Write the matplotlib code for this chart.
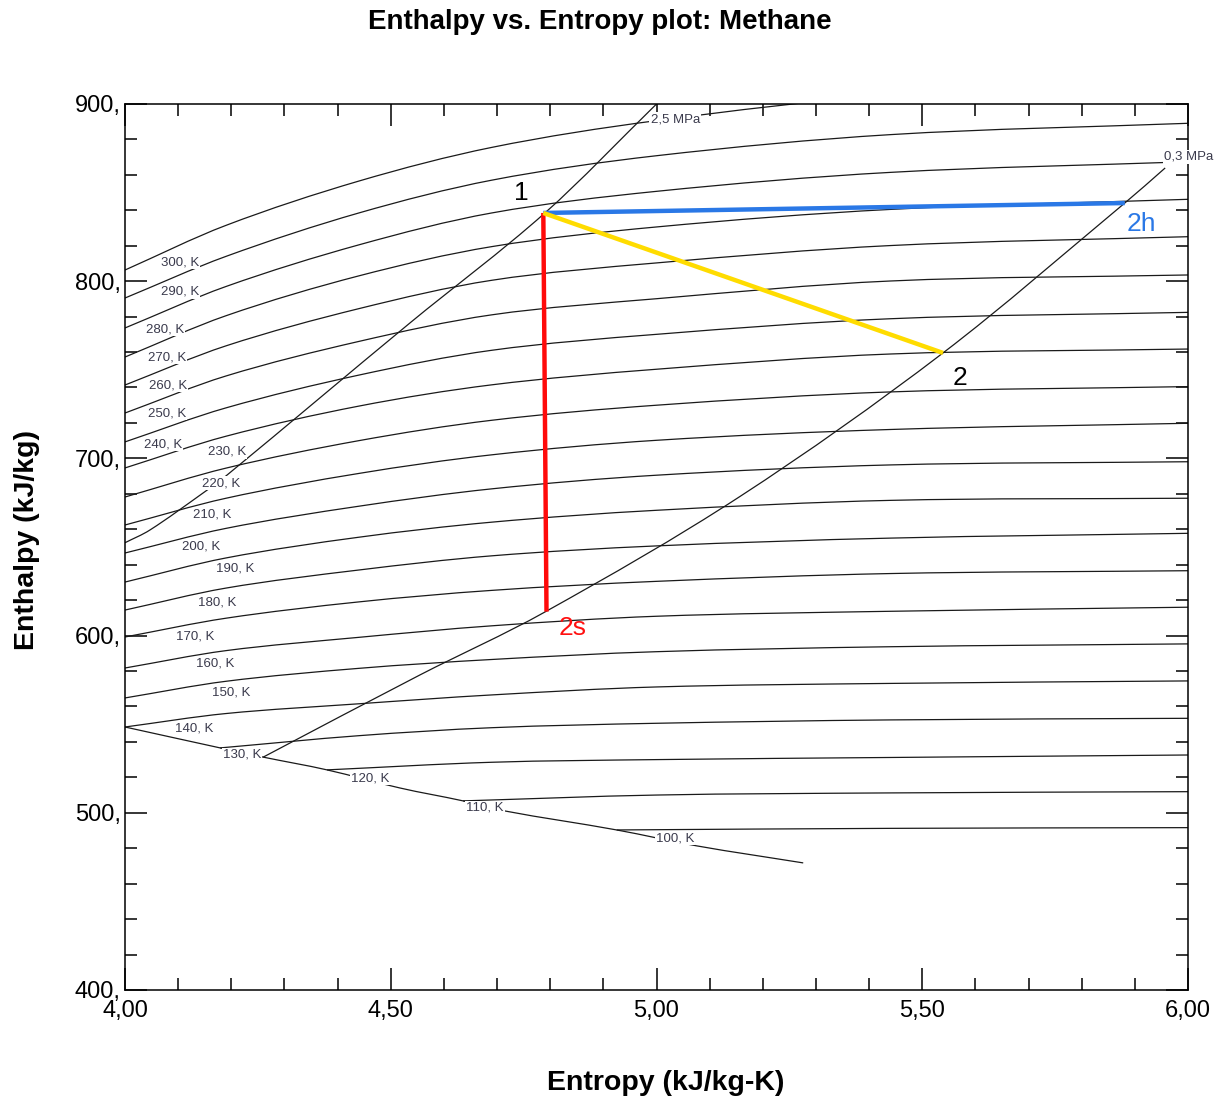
import matplotlib.pyplot as plt
from matplotlib.path import Path
from matplotlib.patches import PathPatch
from matplotlib.ticker import MultipleLocator, FuncFormatter

plt.rcParams['font.family'] = ['Liberation Sans', 'DejaVu Sans']

# entropy points (kJ/kg-K) where the upper isotherms are tabulated
s_grid = [4.00, 4.19, 4.44, 4.69, 5.00, 5.44, 6.00]

# enthalpy (kJ/kg) of each isotherm on s_grid
h_300 = [806.3, 831.5, 856.5, 875.5, 890.6, 905.0, 912.0]
h_290 = [790.5, 814.0, 838.5, 857.0, 870.8, 882.7, 889.1]
h_280 = [773.6, 797.0, 820.5, 838.5, 850.7, 861.4, 867.4]
h_270 = [757.2, 780.5, 803.0, 819.5, 830.6, 840.5, 846.2]
h_260 = [741.4, 763.5, 784.5, 800.5, 810.3, 820.1, 825.1]
h_250 = [725.6, 746.5, 766.0, 781.0, 790.1, 800.1, 803.5]
h_240 = [709.3, 728.5, 747.0, 761.0, 770.0, 778.8, 782.4]
h_230 = [694.6, 712.5, 729.5, 741.5, 750.3, 758.9, 761.7]
h_220 = [678.2, 694.5, 710.0, 721.5, 730.0, 737.5, 740.5]
h_210 = [662.4, 677.5, 691.5, 702.0, 710.2, 716.3, 719.8]
h_200 = [646.6, 660.5, 673.0, 682.8, 690.5, 696.3, 698.1]
h_190 = [630.2, 643.8, 655.5, 664.0, 670.7, 676.3, 677.5]
h_180 = [614.4, 626.8, 637.0, 645.0, 650.6, 655.0, 657.7]
h_170 = [599.2, 609.8, 619.0, 625.5, 630.6, 635.0, 636.6]
h_160 = [581.7, 591.5, 599.0, 605.5, 610.9, 613.7, 616.0]
h_150 = [564.8, 574.2, 581.5, 586.5, 590.9, 593.7, 595.3]
h_140 = [548.4, 556.0, 561.5, 566.5, 571.0, 573.0, 574.4]

# colder isotherms start on the saturated vapour line
s_130 = [4.179, 4.44, 4.69, 5.00, 5.44, 6.00]
h_130 = [536.6, 543.5, 548.0, 550.5, 552.4, 553.3]
s_120 = [4.38, 4.69, 5.00, 5.44, 6.00]
h_120 = [524.2, 528.5, 530.0, 531.2, 532.6]
s_110 = [4.636, 5.00, 5.44, 6.00]
h_110 = [506.7, 510.0, 511.2, 511.9]
s_100 = [4.925, 5.44, 6.00]
h_100 = [490.3, 491.2, 491.6]

# saturated vapour line down to the triple point
s_sat = [4.00, 4.179, 4.26, 4.38, 4.517, 4.636, 4.715, 4.925, 5.076, 5.276]
h_sat = [548.4, 536.6, 531.4, 524.2, 514.0, 506.7, 501.0, 490.3, 481.3, 471.7]

# isobars
s_p25 = [4.00, 4.047, 4.147, 4.192, 4.536, 4.79, 5.00]
h_p25 = [652.4, 659.6, 680.5, 690.6, 776.4, 838.5, 900.0]
s_p03 = [4.26, 4.555, 4.79, 5.157, 5.539, 5.881, 5.957]
h_p03 = [531.4, 577.8, 613.3, 678.5, 759.5, 844.1, 863.9]

# isotherm labels and where they sit
iso_T = [300, 290, 280, 270, 260, 250, 240, 230, 220, 210,
         200, 190, 180, 170, 160, 150, 140, 130, 120, 110, 100]
lab_s = [4.103, 4.103, 4.075, 4.079, 4.081, 4.079, 4.071, 4.192, 4.181, 4.164,
         4.143, 4.207, 4.173, 4.132, 4.169, 4.199, 4.130, 4.220, 4.461, 4.677, 5.035]
lab_h = [810.8, 793.9, 773.0, 757.2, 741.4, 725.6, 708.1, 703.6, 686.1, 668.1,
         650.0, 638.1, 618.9, 599.2, 584.0, 567.6, 547.3, 532.6, 519.6, 502.7, 485.7]

# compressor states
s1, h1 = 4.787, 838.5
s2s, h2s = 4.793, 613.5
s2, h2 = 5.539, 759.5
s2h, h2h = 5.881, 844.1

upper = [h_300, h_290, h_280, h_270, h_260, h_250, h_240, h_230, h_220,
         h_210, h_200, h_190, h_180, h_170, h_160, h_150, h_140]
lower = [(s_130, h_130), (s_120, h_120), (s_110, h_110), (s_100, h_100)]


def smooth_curve(ax, s, h, **kw):
    # cubic Hermite segments through the points, drawn as a Bezier path
    n = len(s)
    slopes = []
    for i in range(n):
        a, b = max(i - 1, 0), min(i + 1, n - 1)
        slopes.append((h[b] - h[a]) / (s[b] - s[a]))
    verts = [(s[0], h[0])]
    codes = [Path.MOVETO]
    for i in range(n - 1):
        d = (s[i + 1] - s[i]) / 3.0
        verts += [(s[i] + d, h[i] + slopes[i] * d),
                  (s[i + 1] - d, h[i + 1] - slopes[i + 1] * d),
                  (s[i + 1], h[i + 1])]
        codes += [Path.CURVE4] * 3
    ax.add_patch(PathPatch(Path(verts, codes), fill=False, **kw))


fig = plt.figure(figsize=(12.15, 10.98), dpi=100)
ax = fig.add_axes([0.1029, 0.0984, 0.8749, 0.8069])

line_kw = dict(edgecolor='#1a1a1a', lw=0.9, zorder=2)
for h in upper:
    smooth_curve(ax, s_grid, h, **line_kw)
for s, h in lower:
    smooth_curve(ax, s, h, **line_kw)
smooth_curve(ax, s_sat, h_sat, **line_kw)
smooth_curve(ax, s_p25, h_p25, **line_kw)
smooth_curve(ax, s_p03, h_p03, **line_kw)

lab_kw = dict(fontsize=9.5, color='#3a3a4c', ha='center', va='center', zorder=4,
              bbox=dict(facecolor='white', edgecolor='none', pad=0.8))
for T, s, h in zip(iso_T, lab_s, lab_h):
    ax.text(s, h, f"{T}, K", **lab_kw)
ax.text(5.035, 891.5, "2,5 MPa", **lab_kw)
ax.text(6.002, 870.1, "0,3 MPa", clip_on=False, **lab_kw)

# process lines
ax.plot([s1, s2s], [h1, h2s], color='#ff0a0a', lw=3.2, zorder=5, solid_capstyle='butt')
ax.plot([s1, s2h], [h1, h2h], color='#2a78e6', lw=3.2, zorder=5, solid_capstyle='butt')
ax.plot([s1, s2], [h1, h2], color='#ffdc00', lw=3.2, zorder=5, solid_capstyle='butt')

ax.text(4.745, 849.8, "1", fontsize=19, ha='center', va='center', color='black')
ax.text(5.571, 745.4, "2", fontsize=19, ha='center', va='center', color='black')
ax.text(4.843, 604.3, "2s", fontsize=19, ha='center', va='center', color='#ff1010')
ax.text(5.913, 832.3, "2h", fontsize=19, ha='center', va='center', color='#2a78e6')

ax.set_xlim(4.0, 6.0)
ax.set_ylim(400, 900)
ax.xaxis.set_major_locator(MultipleLocator(0.5))
ax.xaxis.set_minor_locator(MultipleLocator(0.1))
ax.yaxis.set_major_locator(MultipleLocator(100))
ax.yaxis.set_minor_locator(MultipleLocator(20))
ax.xaxis.set_major_formatter(FuncFormatter(lambda v, p: f"{v:.2f}".replace('.', ',')))
ax.yaxis.set_major_formatter(FuncFormatter(lambda v, p: f"{v:.0f},"))
ax.tick_params(which='both', direction='in', top=True, right=True, width=1.1, labelsize=17)
ax.tick_params(which='major', length=16)
ax.tick_params(which='minor', length=8.5)
ax.tick_params(axis='x', pad=7)
ax.tick_params(axis='y', pad=3)
for sp in ax.spines.values():
    sp.set_linewidth(1.1)

ax.set_xlabel("Entropy (kJ/kg-K)", fontsize=20.5, fontweight='bold')
ax.xaxis.set_label_coords(0.5085, -0.0905)
ax.set_ylabel("Enthalpy (kJ/kg)", fontsize=20.5, fontweight='bold')
ax.yaxis.set_label_coords(-0.080, 0.508)

fig.text(0.494, 0.98, "Enthalpy vs. Entropy plot: Methane", ha='center', va='center',
         fontsize=20, fontweight='bold')

fig.savefig("out.png", dpi=100)
